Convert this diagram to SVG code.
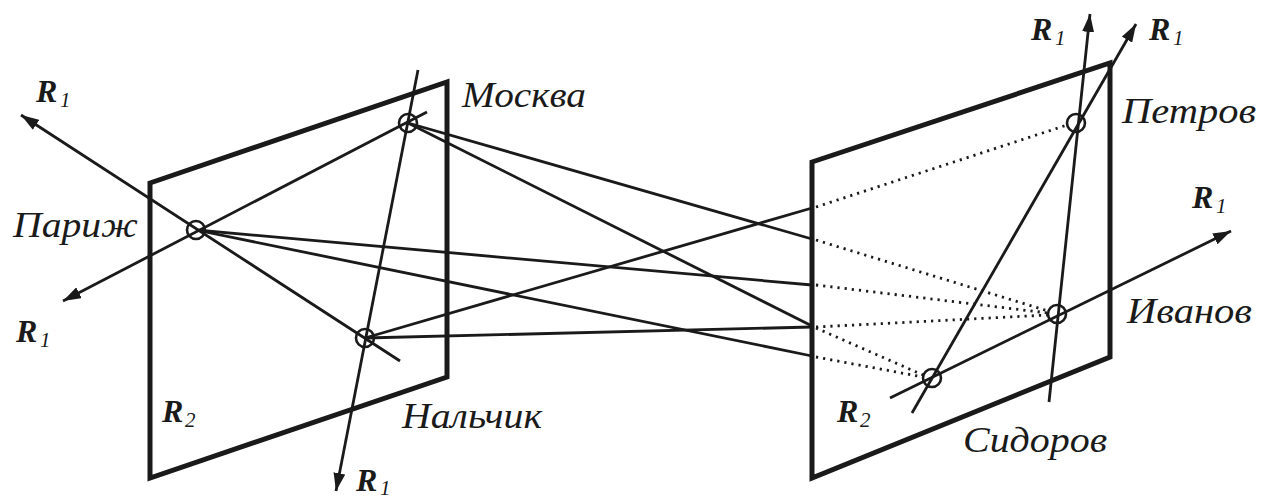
<svg xmlns="http://www.w3.org/2000/svg" width="1264" height="500" viewBox="0 0 1264 500">
<style>
.plane{fill:none;stroke:#1a1a1a;stroke-width:5;stroke-linejoin:miter}
.ln{fill:none;stroke:#1a1a1a;stroke-width:2.8}
.dot{fill:none;stroke:#1a1a1a;stroke-width:2.8;stroke-dasharray:2.2 5}
.pt{fill:none;stroke:#1a1a1a;stroke-width:2.6}
.name{font-family:"Liberation Serif",serif;font-style:italic;font-size:36px;fill:#1a1a1a}
.r{font-family:"Liberation Serif",serif;font-style:italic;font-weight:bold;font-size:32px;fill:#1a1a1a}
.sub{font-family:"Liberation Serif",serif;font-style:italic;font-size:21px;fill:#1a1a1a}
</style>
<defs>
<marker id="arr" markerUnits="userSpaceOnUse" markerWidth="20" markerHeight="12" refX="18" refY="6" orient="auto">
<path d="M0,0 L18,6 L0,12 Z" fill="#1a1a1a"/>
</marker>
</defs>
<g id="plane-left"><polygon class="plane" points="150,183 447,82 447,377 150,478"/></g>
<g id="plane-right"><polygon class="plane" points="812,162 1110,63 1110,357 812,478"/></g>
<g id="connectors">
<line class="ln" x1="400" y1="361" x2="21" y2="115" marker-end="url(#arr)"/>
<line class="ln" x1="427" y1="112" x2="63" y2="301" marker-end="url(#arr)"/>
<line class="ln" x1="418" y1="70" x2="336" y2="491" marker-end="url(#arr)"/>
<line class="ln" x1="1049" y1="402" x2="1090" y2="14" marker-end="url(#arr)"/>
<line class="ln" x1="912" y1="413" x2="1136" y2="24" marker-end="url(#arr)"/>
<line class="ln" x1="890" y1="398" x2="1231" y2="231" marker-end="url(#arr)"/>
<line class="ln" x1="408" y1="123" x2="812" y2="239"/>
<line class="ln" x1="408" y1="123" x2="812" y2="326"/>
<line class="ln" x1="196" y1="230" x2="812" y2="285"/>
<line class="ln" x1="196" y1="230" x2="812" y2="356"/>
<line class="ln" x1="365" y1="338" x2="812" y2="208"/>
<line class="ln" x1="365" y1="338" x2="812" y2="327"/>
<line class="dot" x1="816" y1="207" x2="1067" y2="125"/>
<line class="dot" x1="816" y1="240" x2="1048" y2="311"/>
<line class="dot" x1="816" y1="285" x2="1048" y2="313"/>
<line class="dot" x1="816" y1="327" x2="1048" y2="315"/>
<line class="dot" x1="816" y1="328" x2="923" y2="375"/>
<line class="dot" x1="816" y1="357" x2="923" y2="377"/>
</g>
<g id="node-paris"><circle class="pt" cx="196" cy="230" r="9"/><text class="name" x="13" y="237" textLength="125" lengthAdjust="spacingAndGlyphs">Париж</text></g>
<g id="node-moscow"><circle class="pt" cx="408" cy="123" r="9"/><text class="name" x="462" y="107" textLength="124" lengthAdjust="spacingAndGlyphs">Москва</text></g>
<g id="node-nalchik"><circle class="pt" cx="365" cy="338" r="9"/><text class="name" x="402" y="428" textLength="140" lengthAdjust="spacingAndGlyphs">Нальчик</text></g>
<g id="node-petrov"><circle class="pt" cx="1076" cy="123" r="9"/><text class="name" x="1122" y="123" textLength="134" lengthAdjust="spacingAndGlyphs">Петров</text></g>
<g id="node-ivanov"><circle class="pt" cx="1057" cy="314" r="9"/><text class="name" x="1127" y="323" textLength="125" lengthAdjust="spacingAndGlyphs">Иванов</text></g>
<g id="node-sidorov"><circle class="pt" cx="932" cy="378" r="9"/><text class="name" x="963" y="452" textLength="144" lengthAdjust="spacingAndGlyphs">Сидоров</text></g>
<g id="labels">
<text class="r" x="36" y="102">R</text><text class="sub" x="60" y="107">1</text>
<text class="r" x="16" y="342">R</text><text class="sub" x="40" y="347">1</text>
<text class="r" x="356" y="491">R</text><text class="sub" x="380" y="495">1</text>
<text class="r" x="1031" y="40">R</text><text class="sub" x="1055" y="45">1</text>
<text class="r" x="1149" y="40">R</text><text class="sub" x="1173" y="45">1</text>
<text class="r" x="1192" y="208">R</text><text class="sub" x="1216" y="213">1</text>
<text class="r" x="162" y="422">R</text><text class="sub" x="185" y="427">2</text>
<text class="r" x="837" y="422">R</text><text class="sub" x="860" y="427">2</text>
</g>
</svg>
